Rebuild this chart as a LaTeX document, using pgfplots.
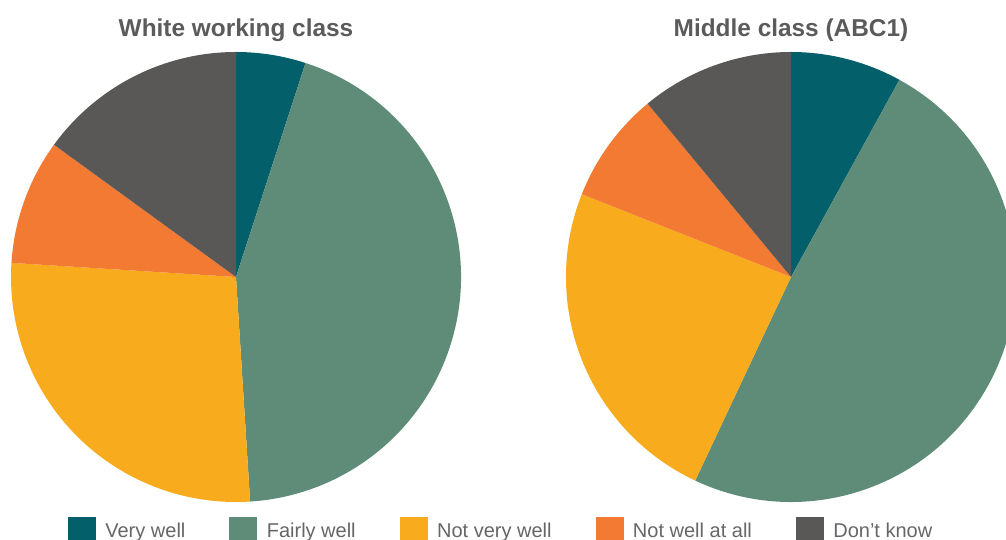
\documentclass[border=0pt]{standalone}
\usepackage{pgfplots}
\usepackage{pgfplotstable}
\pgfplotsset{compat=1.18}
\usepackage{fontspec}
\setmainfont{Liberation Sans}

\definecolor{pie0}{HTML}{03606A}
\definecolor{pie1}{HTML}{5E8C78}
\definecolor{pie2}{HTML}{F8AB1C}
\definecolor{pie3}{HTML}{F37A32}
\definecolor{pie4}{HTML}{5A5857}
\definecolor{ttl}{HTML}{5B5B5B}
\definecolor{lgt}{HTML}{666666}

% White working class (%)
\pgfplotstableread{
idx value
0 5
1 44
2 27
3 9
4 15
}\wwc
\pgfplotstablecreatecol[expr accum={\pgfmathaccuma + \thisrow{value}}{0}]{cum}{\wwc}

% Middle class ABC1 (%)
\pgfplotstableread{
idx value
0 8
1 49
2 24
3 8
4 11
}\mcl
\pgfplotstablecreatecol[expr accum={\pgfmathaccuma + \thisrow{value}}{0}]{cum}{\mcl}

\pgfdeclareplotmark{pieslice}{%
  \pgfmathtruncatemacro\ii{\idx}%
  \pgfsetfillcolor{pie\ii}%
  \pgfpathmoveto{\pgfpointorigin}%
  \pgfpathlineto{\pgfpointpolar{\pa}{225pt}}%
  \pgfpatharc{\pa}{\pb}{225pt}%
  \pgfpathclose
  \pgfusepath{fill}%
}

\pgfplotsset{
  pie/.style={only marks, mark=pieslice,
    visualization depends on={\thisrow{idx} \as \idx},
    visualization depends on={90-3.6*(\thisrow{cum}-\thisrow{value}) \as \pa},
    visualization depends on={90-3.6*\thisrow{cum} \as \pb},
    forget plot},
  sq/.style={legend image code/.code={\fill[#1] (0pt,-13.5pt) rectangle (27pt,13.5pt);}},
}

\begin{document}
\begin{tikzpicture}
\useasboundingbox (0,0) rectangle (1006pt,540pt);
\clip (0,0) rectangle (1006pt,540pt);
\begin{scope}[overlay]
\begin{axis}[
  at={(0,0)}, anchor=south west,
  width=1006pt, height=540pt, scale only axis,
  xmin=0, xmax=1006, ymin=0, ymax=540,
  hide axis, clip=false,
  legend columns=5,
  legend style={at={(68/1006,9/540)}, anchor=west, draw=none, fill=none,
    inner sep=0pt, outer sep=0pt,
    font=\fontsize{20}{24}\selectfont, text=lgt,
    nodes={inner sep=0pt},
    /tikz/every odd column/.append style={column sep=10pt},
    /tikz/every even column/.append style={column sep=44pt}},
  legend cell align=left,
]
\addplot[pie] table[x expr=236, y expr=263] {\wwc};
\addplot[pie] table[x expr=791, y expr=263] {\mcl};

\addlegendimage{sq=pie0}
\addlegendimage{sq=pie1}
\addlegendimage{sq=pie2}
\addlegendimage{sq=pie3}
\addlegendimage{sq=pie4}
\legend{Very well, Fairly well, Not very well, Not well at all, Don’t know}

\node[anchor=base, font=\fontsize{24.4}{28}\selectfont\bfseries, text=ttl] at (axis cs:236,503) {White working class};
\node[anchor=base, font=\fontsize{24.4}{28}\selectfont\bfseries, text=ttl] at (axis cs:791,503) {Middle class (ABC1)};
\end{axis}
\end{scope}
\end{tikzpicture}
\end{document}
